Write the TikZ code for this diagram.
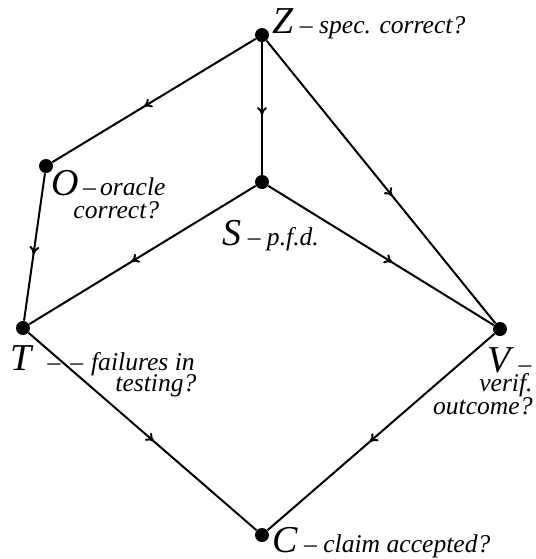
\documentclass[tikz,border=0pt]{standalone}
\usepackage{fontspec}
\setmainfont{Liberation Serif}
\usetikzlibrary{arrows.meta,decorations.markings}
\newcommand{\bigletter}[1]{{\fontsize{19}{21}\selectfont #1}}

\begin{document}
\begin{tikzpicture}[x=0.5pt, y=-0.5pt, every node/.style={font=\fontsize{12.8}{12}\selectfont\itshape, inner sep=0pt}]
\tikzset{pt/.style={circle, fill=black, minimum size=7pt}}
\tikzset{edge/.style={line width=1pt, decoration={markings, mark=at position 0.55 with {\arrow{To[length=4pt,width=5pt]}}}, postaction={decorate}}}
\useasboundingbox (0,0) rectangle (536,559);
% vertices
\node[pt] (z) at (262,35) {};
\node[pt] (o) at (46,166) {};
\node[pt] (s) at (262,182) {};
\node[pt] (t) at (23,328) {};
\node[pt] (v) at (500,329) {};
\node[pt] (c) at (262,535) {};
% edges
\draw[edge] (z) -- (o);
\draw[edge] (z) -- (s);
\draw[edge] (z) -- (v);
\draw[edge] (o) -- (t);
\draw[edge] (s) -- (t);
\draw[edge] (s) -- (v);
\draw[edge] (t) -- (c);
\draw[edge] (v) -- (c);
% labels
\node[anchor=base west] (zl) at (272,33) {\bigletter{Z} -- spec. correct?};
\node[anchor=base west] (ol) at (51,195) {\bigletter{O}\,--\,oracle};
\node[anchor=base west] (ol2) at (73,218) {correct?};
\node[anchor=base west] (sl) at (222,245) {\bigletter{S} -- p.f.d.};
\node[anchor=base west] (tl) at (10,370) {\bigletter{T}\hspace{8pt}--\hspace{5pt}--\hspace{4pt}failures in};
\node[anchor=base west] (tl2) at (115,391) {testing?};
\node[anchor=base west] (vl) at (487,372) {\bigletter{V}\hspace{4pt}--};
\node[anchor=base east] (vl2) at (533,391) {verif.};
\node[anchor=base east] (vl3) at (533,414) {outcome?};
\node[anchor=base west] (cl) at (272,552) {\bigletter{C} -- claim accepted?};
\end{tikzpicture}
\end{document}
